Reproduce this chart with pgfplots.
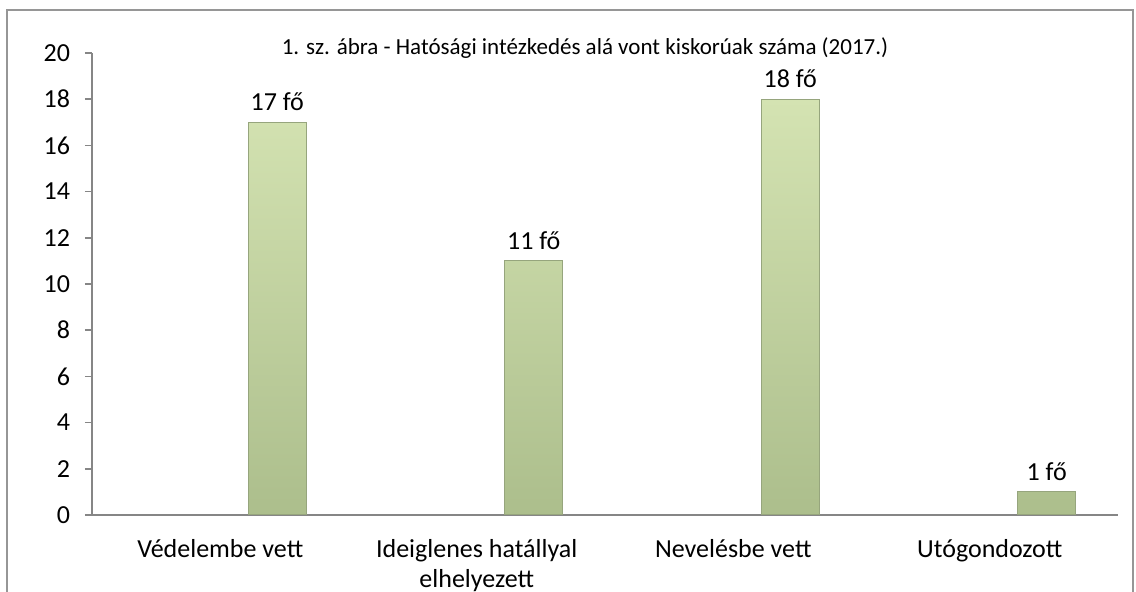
\documentclass[border=0pt]{standalone}
\usepackage{fontspec}
\setmainfont{Carlito}
\usepackage{pgfplots}
\pgfplotsset{compat=1.18}
\definecolor{axgray}{RGB}{134,134,134}
\definecolor{frgray}{RGB}{150,150,150}
\definecolor{gtop}{RGB}{212,227,178}
\definecolor{gmid}{RGB}{198,217,162}
\definecolor{gbot}{RGB}{172,190,140}
\definecolor{gedge}{RGB}{150,165,125}
\begin{document}
\begin{tikzpicture}
\path[use as bounding box] (0,0) rectangle (568pt,296pt);
\draw[frgray, line width=0.8pt] (3.5pt,0) -- (3.5pt,291pt) -- (566.5pt,291pt) -- (566.5pt,0);
\begin{axis}[
  at={(46pt,38.5pt)}, anchor=south west,
  scale only axis, width=513pt, height=231pt,
  xmin=-0.5, xmax=3.5, ymin=0, ymax=20,
  axis lines=left, axis line style={-, axgray, line width=0.8pt},
  ytick={0,2,...,20},
  xtick={0,1,2,3},
  xticklabels={Védelembe vett, {Ideiglenes hatállyal\\elhelyezett}, Nevelésbe vett, Utógondozott},
  x tick style={draw=none},
  y tick style={axgray, line width=0.8pt},
  tick align=outside, major tick length=3.5pt,
  extra x ticks={-0.5,0.5,1.5,2.5,3.5},
  extra x tick labels={},
  extra x tick style={tick style={draw=axgray, line width=0.8pt}, major tick length=3.5pt},
  /pgf/number format/assume math mode=true,
  tick label style={font=\fontsize{13}{15}\selectfont, black},
  xticklabel style={align=center, yshift=-5pt},
  yticklabel style={xshift=-4pt},
  ybar, bar width=29pt, bar shift=28.5pt,
  nodes near coords={\pgfmathprintnumber{\pgfplotspointmeta}~fő},
  nodes near coords style={font=\fontsize{13}{15}\selectfont, black, yshift=2pt},
  clip=false,
]
\addplot[draw=gedge, line width=0.5pt, top color=gtop, middle color=gmid, bottom color=gbot]
  coordinates {(0,17) (1,11) (2,18) (3,1)};
\end{axis}
\node[font=\fontsize{11.5}{13}\selectfont] at (292.5pt,272pt) {1. sz. ábra - Hatósági intézkedés alá vont kiskorúak száma (2017.)};
\end{tikzpicture}
\end{document}
